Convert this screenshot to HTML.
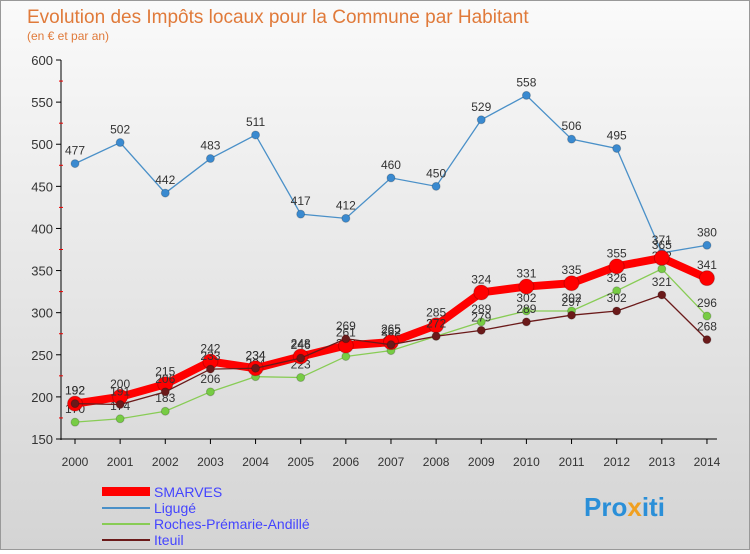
<!DOCTYPE html>
<html><head><meta charset="utf-8"><style>
body{margin:0;width:750px;height:550px;overflow:hidden;font-family:"Liberation Sans",sans-serif}
#wrap{position:relative;width:748px;height:548px;border:1px solid #999;background:linear-gradient(#fafafa,#d4d4d4)}
</style></head><body>
<div id="wrap">
<svg id="c" width="748" height="548" xmlns="http://www.w3.org/2000/svg">
<text x="26" y="22" font-size="19" fill="#e07a3a" font-family="Liberation Sans">Evolution des Impôts locaux pour la Commune par Habitant</text>
<text x="26" y="39" font-size="12" fill="#e07a3a">(en € et par an)</text>
<g id="axes"></g><g id="series"></g>
<g font-size="14" fill="#3355ff">
<rect x="101" y="486" width="48" height="9" fill="#ff0000"/>
<text x="153" y="496" fill="#4444ff">SMARVES</text>
<line x1="101" y1="507" x2="149" y2="507" stroke="#4a90c8" stroke-width="2"/>
<text x="153" y="512" fill="#4444ff">Ligugé</text>
<line x1="101" y1="523" x2="149" y2="523" stroke="#88cc55" stroke-width="2"/>
<text x="153" y="528" fill="#4444ff">Roches-Prémarie-Andillé</text>
<line x1="101" y1="539" x2="149" y2="539" stroke="#6b1a1a" stroke-width="2"/>
<text x="153" y="544" fill="#4444ff">Iteuil</text>
</g>
<text x="583" y="515" font-size="26" font-weight="bold" fill="#2a8fd8">Pro<tspan fill="#f0a020">x</tspan>iti</text>
</svg></div>
<script>
const years=[2000,2001,2002,2003,2004,2005,2006,2007,2008,2009,2010,2011,2012,2013,2014];
const yTicks=[150,200,250,300,350,400,450,500,550,600];
const smarves=[192,200,215,242,234,248,261,265,285,324,331,335,355,365,341];
const liguge=[477,502,442,483,511,417,412,460,450,529,558,506,495,371,380];
const roches=[170,174,183,206,224,223,248,255,272,289,302,302,326,352,296];
const iteuil=[192,191,206,233,234,246,269,262,272,279,289,297,302,321,268];
const NS="http://www.w3.org/2000/svg";
const X=i=>74+i*45.14, Y=v=>438-(v-150)*0.8422;
function mk(t,a,p){const e=document.createElementNS(NS,t);for(const k in a)e.setAttribute(k,a[k]);p.appendChild(e);return e;}
const ax=document.getElementById('axes');
mk('line',{x1:60,y1:Y(600),x2:60,y2:Y(150)+1,stroke:'#000'},ax);
mk('line',{x1:60,y1:Y(150),x2:X(14)+10,y2:Y(150),stroke:'#000'},ax);
yTicks.forEach(v=>{mk('line',{x1:55,y1:Y(v),x2:60,y2:Y(v),stroke:'#000'},ax);
 const t=mk('text',{x:52,y:Y(v)+5,'text-anchor':'end','font-size':13,fill:'#333'},ax);t.textContent=v;
 
 
 if(v<600)mk('line',{x1:58,y1:Y(v+25),x2:62,y2:Y(v+25),stroke:'#e00'},ax);});
years.forEach((y,i)=>{mk('line',{x1:X(i),y1:Y(150),x2:X(i),y2:Y(150)+5,stroke:'#000'},ax);
 const t=mk('text',{x:X(i),y:465,'text-anchor':'middle','font-size':12,fill:'#333'},ax);t.textContent=y;
 
 });
const sg=document.getElementById('series');
function draw(name,d,col,w,r,fill){const g=mk('g',{},sg);
 
 
 mk('polyline',{points:d.map((v,i)=>X(i)+','+Y(v)).join(' '),fill:'none',stroke:col,'stroke-width':w},g);
 d.forEach((v,i)=>{const c=mk('circle',{cx:X(i),cy:Y(v),r:r,fill:fill,stroke:'rgba(0,0,0,0.2)'},g);
  
  
  const t=mk('text',{x:X(i),y:Y(v)-9,'text-anchor':'middle','font-size':12,fill:'#333'},g);t.textContent=v;});}
draw('liguge',liguge,'#4a90c8',1.3,4,'#3a8ad0');
draw('roches',roches,'#88cc55',1.3,4,'#77cc44');
draw('smarves',smarves,'#ff0000',8,7.5,'#ff0000');
draw('iteuil',iteuil,'#6b1a1a',1.3,4,'#6b1a1a');
</script></body></html>
